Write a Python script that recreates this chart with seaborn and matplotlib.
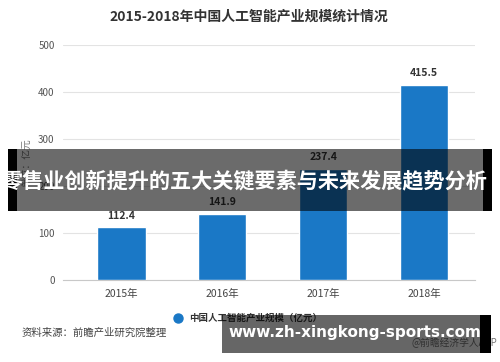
import matplotlib
matplotlib.use("Agg")
import matplotlib.pyplot as plt
import seaborn as sns
import pandas as pd
from matplotlib.patches import Rectangle

years = ["2015年", "2016年", "2017年", "2018年"]
values = [112.4, 141.9, 237.4, 415.5]
yticks = [0, 100, 200, 300, 400, 500]
title = "2015-2018年中国人工智能产业规模统计情况"
legend_label = "中国人工智能产业规模（亿元）"
ylabel = "单位：亿元"
source = "资料来源：前瞻产业研究院整理"
banner = "零售业创新提升的五大关键要素与未来发展趋势分析"
url = "www.zh-xingkong-sports.com"
credit = "@前瞻经济学人APP"

sns.set_style("white")
plt.rcParams['font.family'] = ['Noto Sans CJK SC', 'DejaVu Sans']

df = pd.DataFrame({"year": years, "value": values})
blue = "#1a78c6"

fig = plt.figure(figsize=(5, 3.62), dpi=100)
ax = fig.add_axes([0.126, 0.2257, 0.824, 0.6492])
sns.barplot(data=df, x="year", y="value", color=blue, width=0.48, saturation=1, ax=ax, zorder=3)
ax.set_xlim(-0.58, 3.507)
ax.set_ylim(0, 500)
ax.set_yticks(yticks)
ax.set_yticklabels([str(t) for t in yticks], color="#555555", fontsize=7)
ax.tick_params(axis='y', length=0, pad=6)
ax.tick_params(axis='x', length=4, color="#bbbbbb", labelsize=7.5, labelcolor="#444444", pad=2)
ax.grid(axis='y', color="#e3e3e3", linewidth=0.8, zorder=0)
for s in ["top", "right", "left"]:
    ax.spines[s].set_visible(False)
ax.spines["bottom"].set_color("#c8c8c8")
ax.set_xlabel("")
ax.set_ylabel(ylabel, color="#777777", fontsize=7, labelpad=5)

for i, v in enumerate(values):
    ax.annotate(f"{v:.1f}", (i, v), xytext=(0, 5), textcoords="offset points",
                ha="center", va="bottom", fontsize=7.5, fontweight="bold", color="#333333")

fig.text(0.498, 0.953, title, ha="center", va="center", fontsize=10, fontweight="bold", color="#333333")

# legend
fig.add_artist(plt.Line2D([0.356], [1 - 318/362], marker="o", markersize=6.5, color=blue, transform=fig.transFigure))
fig.text(0.378, 1 - 318/362, legend_label, ha="left", va="center", fontsize=6.8, fontweight="bold", color="#333333")
fig.text(0.044, 1 - 333/362, source, ha="left", va="center", fontsize=7.5, color="#444444")
fig.text(0.995, 1 - 343/362, credit, ha="right", va="center", fontsize=7, color="#777777")

# overlay band
H = 362.0
fig.add_artist(Rectangle((8/500, 1 - 211/H), 484/500, 62/H, transform=fig.transFigure,
                         facecolor="black", alpha=0.58, edgecolor="none", zorder=10))
fig.add_artist(Rectangle((8/500, 1 - 211/H), 9/500, 62/H, transform=fig.transFigure,
                         facecolor="black", edgecolor="none", zorder=10))
fig.add_artist(Rectangle((483/500, 1 - 211/H), 9/500, 62/H, transform=fig.transFigure,
                         facecolor="black", edgecolor="none", zorder=10))
fig.text(0.49, 1 - 181/H, banner, ha="center", va="center", fontsize=15.2, fontweight="bold",
         color="white", zorder=11)

# bottom banner
fig.add_artist(Rectangle((222/500, 1 - 353/H), 269/500, 38/H, transform=fig.transFigure,
                         facecolor="black", alpha=0.6, edgecolor="none", zorder=10))
fig.add_artist(Rectangle((480/500, 1 - 353/H), 11/500, 38/H, transform=fig.transFigure,
                         facecolor="black", edgecolor="none", zorder=10))
fig.text(355/500, 1 - 333/H, url, ha="center", va="center", fontsize=11, fontweight="bold",
         color="white", family="DejaVu Sans", zorder=11)

fig.savefig("out.png", dpi=100)
